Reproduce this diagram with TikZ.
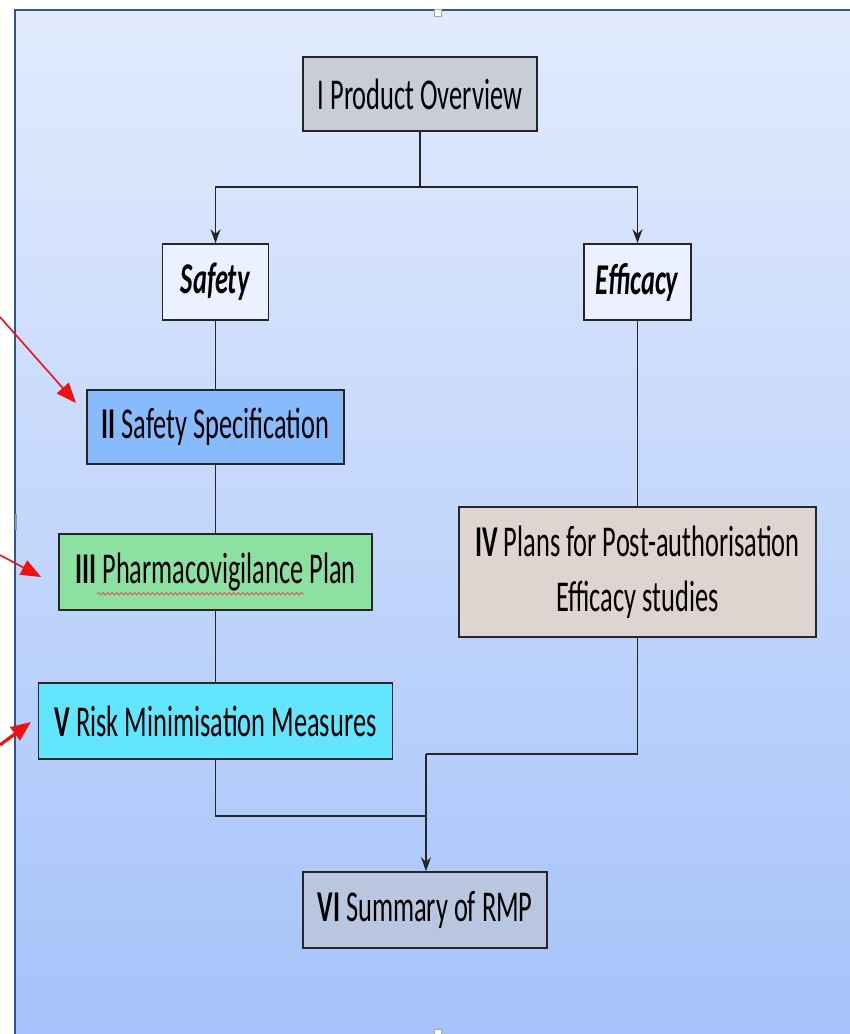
\documentclass[tikz,border=0pt]{standalone}
\usepackage{fontspec}
\setmainfont{Carlito}[FakeStretch=0.6]
\usetikzlibrary{arrows.meta,calc,decorations.pathmorphing}

\definecolor{bgtop}{HTML}{E2EBFD}
\definecolor{bgbot}{HTML}{A5C3FA}
\definecolor{frameblue}{HTML}{33568F}
\definecolor{fillI}{HTML}{C8CDD8}
\definecolor{fillSE}{HTML}{EBF1FE}
\definecolor{fillII}{HTML}{88BBFC}
\definecolor{fillIII}{HTML}{8CE0A0}
\definecolor{fillV}{HTML}{62E6FE}
\definecolor{fillIV}{HTML}{E0D4D0}
\definecolor{fillVI}{HTML}{B9C6E0}
\definecolor{pointred}{HTML}{F01010}
\definecolor{waveRed}{HTML}{E85050}

\begin{document}
\begin{tikzpicture}[x=1pt,y=-1pt,
  box/.style={draw=black!85, line width=1.5pt, minimum height=76pt, inner sep=0pt,
              font=\fontsize{44}{55}\selectfont, text=black, align=center},
  link/.style={draw=black!85, line width=1.3pt},
  arr/.style={link, -{Stealth[length=14pt,width=10pt]}},
  pointer/.style={draw=pointred, line width=1.6pt, -{Triangle[length=20pt,width=16pt]}},
  handle/.style={draw=gray!70, fill=white, line width=0.6pt}
]
% page and shaded canvas
\useasboundingbox (0,0) rectangle (850,1034);
\fill[white] (0,0) rectangle (850,1034);
\shade[top color=bgtop, bottom color=bgbot] (15,10) rectangle (850,1034);
\draw[frameblue, line width=1.8pt] (15,1034) -- (15,10) -- (850,10);
\draw[handle] (434,9) rectangle (441,16);
\draw[handle] (434,1029) rectangle (441,1034);
\draw[frameblue!60, line width=1.2pt] (16,514) -- (16,530);

% boxes
\node[box, fill=fillI, minimum width=234pt, minimum height=74pt] (po) at (420,94) {I Product Overview};
\node[box, fill=fillSE, minimum width=106pt] (safety) at (215.5,282) {\textbf{\textit{Safety}}};
\node[box, fill=fillSE, minimum width=107pt] (efficacy) at (637.5,282) {\textbf{\textit{Efficacy}}};
\node[box, fill=fillII, minimum width=257pt, minimum height=74pt] (spec) at (215.5,427) {\textbf{II} Safety Specification};
\node[box, fill=fillIII, minimum width=313pt] (pv) at (215.5,572) {\textbf{III} Pharmacovigilance Plan};
\node[box, fill=fillV, minimum width=354pt] (rmm) at (215.5,721) {\textbf{V} Risk Minimisation Measures};
\node[box, fill=fillIV, minimum width=357pt, minimum height=130pt] (pa) at (637.5,572)
  {\textbf{IV} Plans for Post-authorisation\\Efficacy studies};
\node[box, fill=fillVI, minimum width=244pt] (sum) at (425,910) {\textbf{VI} Summary of RMP};

% spell-check underline under the long word
\draw[waveRed, line width=0.8pt, decorate,
      decoration={snake, amplitude=1.3pt, segment length=4.5pt}]
  ($(pv.south west)+(39,-17)$) -- ($(pv.south west)+(246,-17)$);

% connectors
\coordinate (split) at (420,187);
\draw[link] (po.south) -- (split);
\draw[arr] (split) -| (safety.north);
\draw[arr] (split) -| (efficacy.north);
\draw[link] (safety.south) -- (spec.north);
\draw[link] (spec.south) -- (pv.north);
\draw[link] (pv.south) -- (rmm.north);
\draw[link] (efficacy.south) -- (pa.north);
\coordinate (join) at (426,816);
\coordinate (bend) at (426,754);
\draw[link] (rmm.south) |- (join);
\draw[link] (pa.south) |- (bend);
\draw[arr] (bend) -- (join) -- (join |- sum.north);

% red pointers entering from the left edge
\coordinate (p1) at (0,317);
\coordinate (p2) at (0,555);
\coordinate (p3) at (0,745);
\coordinate (t1) at (76,403);
\coordinate (t2) at (41,577);
\coordinate (t3) at (31,722);
\draw[pointer] (p1) -- (t1);
\draw[pointer] (p2) -- (t2);
\draw[pointer, line width=3.2pt] (p3) -- (t3);
\end{tikzpicture}
\end{document}
